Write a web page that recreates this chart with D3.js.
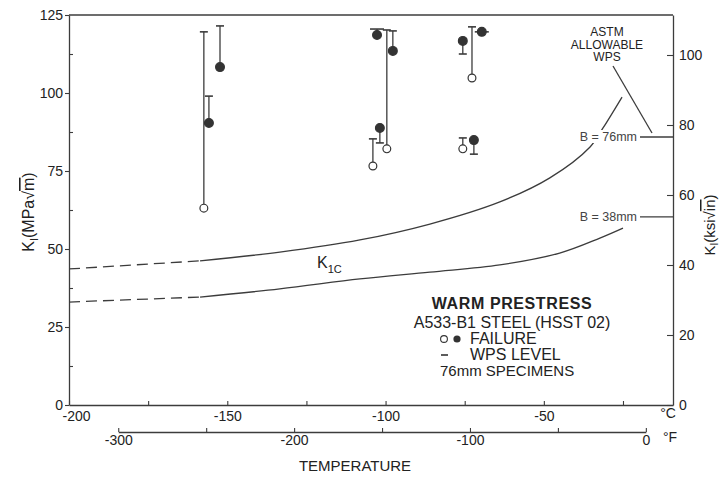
<!DOCTYPE html>
<html>
<head>
<meta charset="utf-8">
<script src="https://cdn.jsdelivr.net/npm/d3@7"></script>
<style>
  html, body { margin: 0; padding: 0; background: #fff; }
  svg { display: block; font-family: "Liberation Sans", Arial, Helvetica, sans-serif; }
</style>
</head>
<body>
<svg id="chart" width="726" height="477"></svg>
<script>
// ---- Temperature axes ----
const celsiusExtent = [-200, -9.2];
const celsiusTicks = [-200, -175, -150, -125, -100, -75, -50, -25];
const celsiusLabels = [-200, -150, -100, -50];
const fahrenheitTicks = [-300, -250, -200, -150, -100, -50, 0];
const fahrenheitLabels = [-300, -200, -100, 0];

// ---- Stress intensity axes ----
const mpaTicks = [0, 25, 50, 75, 100, 125];
const mpaMinorTicks = [12.5, 37.5, 62.5, 87.5, 112.5];
const ksiTicks = [0, 20, 40, 60, 80, 100];

// ---- K1C curves (temperature °C, K in MPa·√m) ----
const upperCurveTemp = [-200, -158.6, -133.4, -108.1, -86.0, -63.9, -48.1, -35.4, -31.3, -25.3];
const upperCurveK    = [43.6, 46.2, 49.0, 52.9, 58.0, 65.1, 72.8, 82.7, 88.8, 98.7];
const lowerCurveTemp = [-200, -158.6, -133.4, -108.1, -86.0, -63.9, -45.0, -32.3, -25.0];
const lowerCurveK    = [33.0, 34.6, 37.2, 40.4, 42.6, 44.9, 48.7, 53.5, 56.7];
const extrapolatedBelow = -158.6;   // dashed below this temperature

// ---- Warm prestress specimens ----
const specTemp   = [-157.4, -152.3, -155.8, -102.7, -99.6, -97.7, -101.8, -104.0, -75.6, -72.7, -69.6, -75.6, -72.1];
const specFailK  = [63.1, 108.3, 90.4, 118.6, 82.1, 113.5, 88.8, 76.6, 116.7, 104.8, 119.6, 82.1, 84.9];
const specWpsK   = [119.6, 121.5, 99.0, 120.5, 120.2, 119.9, 84.0, 85.3, 112.5, 121.2, 119.6, 85.6, 80.4];
const specFilled = [false, true, true, true, false, true, true, false, true, false, true, false, true];

// ---- ASTM allowable WPS levels (MPa·√m) ----
const allowableLabels = ["B = 76mm", "B = 38mm"];
const allowableK = [85.9, 60.3];

const ink = "#3c3c3c";
const textInk = "#222";

const svg = d3.select("#chart");

const x = d3.scaleLinear().domain(celsiusExtent).range([69, 673]);
const yL = d3.scaleLinear().domain([0, 125]).range([405, 15]);
const yR = d3.scaleLinear().domain([0, 100]).range([405, 55]);
yR.domain([0, yR.invert(15)]).range([405, 15]);
const f2c = f => (f - 32) * 5 / 9;
const xF = d3.scaleLinear().domain([-300, 0]).range([x(f2c(-300)), x(f2c(0))]);

function styleAxis(g, size) {
  g.attr("font-family", null).attr("font-size", null);
  g.selectAll("path.domain").attr("stroke", ink).attr("stroke-width", 1.3);
  g.selectAll(".tick line").attr("stroke", ink).attr("stroke-width", 1.1);
  g.selectAll(".tick text").attr("fill", textInk).style("font-size", size + "px");
}

// Left axis (MPa√m)
const gL = svg.append("g").attr("transform", "translate(69,0)")
  .call(d3.axisLeft(yL).tickValues(mpaTicks).tickSize(4).tickPadding(2).tickSizeOuter(0));
styleAxis(gL, 14);
svg.append("g").attr("transform", "translate(69,0)")
  .call(d3.axisRight(yL).tickValues(mpaMinorTicks).tickSize(4).tickFormat(""))
  .call(g => { g.select("path.domain").remove(); styleAxis(g, 14); });

// Right axis (ksi√in)
const gR = svg.append("g").attr("transform", "translate(673,0)")
  .call(d3.axisRight(yR).tickValues(ksiTicks).tickSize(-6).tickPadding(6).tickSizeOuter(0));
styleAxis(gR, 14);

// Top frame
svg.append("line")
  .attr("x1", x.range()[0]).attr("x2", x.range()[1])
  .attr("y1", yL(125)).attr("y2", yL(125))
  .attr("stroke", ink).attr("stroke-width", 1.3);

// Celsius axis
const gC = svg.append("g").attr("transform", `translate(0,${yL(0)})`)
  .call(d3.axisBottom(x).tickValues(celsiusTicks).tickSize(-4).tickPadding(6).tickSizeOuter(0)
    .tickFormat(d => celsiusLabels.includes(d) ? String(d) : ""));
styleAxis(gC, 14);
gC.selectAll(".tick text").filter(d => d === -200).attr("text-anchor", "start").attr("x", -7);
svg.append("text").attr("x", 668).attr("y", 418).attr("text-anchor", "middle")
  .attr("fill", textInk).style("font-size", "14px").text("°C");

// Fahrenheit axis
const gF = svg.append("g").attr("transform", "translate(0,432)")
  .call(d3.axisBottom(xF).tickValues(fahrenheitTicks).tickSize(-4).tickPadding(3).tickSizeOuter(0)
    .tickFormat(d => fahrenheitLabels.includes(d) ? String(d) : ""));
styleAxis(gF, 14);
svg.append("text").attr("x", 670).attr("y", 442).attr("text-anchor", "middle")
  .attr("fill", textInk).style("font-size", "14px").text("°F");

svg.append("text").attr("x", 355).attr("y", 471).attr("text-anchor", "middle")
  .attr("fill", textInk).style("font-size", "15px").text("TEMPERATURE");

// Axis titles
const tL = svg.append("text").attr("transform", "translate(34,212) rotate(-90)")
  .attr("text-anchor", "middle").attr("fill", textInk).style("font-size", "16px");
tL.append("tspan").text("K");
tL.append("tspan").attr("dy", 4).style("font-size", "11px").text("I");
tL.append("tspan").attr("dy", -4).text("(MPa\u221A");
tL.append("tspan").style("text-decoration", "overline").text("m");
tL.append("tspan").text(")");

const tR = svg.append("text").attr("transform", "translate(715,225) rotate(-90)")
  .attr("text-anchor", "middle").attr("fill", textInk).style("font-size", "15px");
tR.append("tspan").text("K");
tR.append("tspan").attr("dy", 3).style("font-size", "10px").text("I");
tR.append("tspan").attr("dy", -3).text("(ksi\u221A");
tR.append("tspan").style("text-decoration", "overline").text("in");
tR.append("tspan").text(")");

// K1C curves
const line = d3.line().x(d => x(d[0])).y(d => yL(d[1])).curve(d3.curveCatmullRom.alpha(0.5));
function drawCurve(temps, ks) {
  const pts = temps.map((t, i) => [t, ks[i]]);
  svg.append("path").datum(pts.filter(p => p[0] <= extrapolatedBelow))
    .attr("d", line).attr("fill", "none").attr("stroke", ink).attr("stroke-width", 1.3)
    .attr("stroke-dasharray", "11,6");
  svg.append("path").datum(pts.filter(p => p[0] >= extrapolatedBelow))
    .attr("d", line).attr("fill", "none").attr("stroke", ink).attr("stroke-width", 1.3);
}
drawCurve(upperCurveTemp, upperCurveK);
drawCurve(lowerCurveTemp, lowerCurveK);

const k1c = svg.append("text").attr("x", 317).attr("y", 268).attr("fill", textInk).style("font-size", "16px");
k1c.append("tspan").text("K");
k1c.append("tspan").attr("dy", 5).style("font-size", "11px").text("1C");

// ASTM allowable WPS levels
allowableK.forEach((k, i) => {
  const yy = yL(k);
  svg.append("line").attr("x1", x.range()[1] - 33).attr("x2", x.range()[1])
    .attr("y1", yy).attr("y2", yy).attr("stroke", ink).attr("stroke-width", 1.3);
  svg.append("rect").attr("x", 575).attr("y", yy - 7).attr("width", 64).attr("height", 13).attr("fill", "#fff");
  svg.append("text").attr("x", 637).attr("y", yy + 4.5).attr("text-anchor", "end")
    .attr("fill", "#444").style("font-size", "12.5px").text(allowableLabels[i]);
});

const astm = svg.append("text").attr("text-anchor", "middle").attr("fill", textInk).style("font-size", "12px");
["ASTM", "ALLOWABLE", "WPS"].forEach((s, i) => {
  astm.append("tspan").attr("x", 607).attr("y", 36 + i * 12.5).text(s);
});
svg.append("line").attr("x1", 613).attr("y1", 66).attr("x2", 652).attr("y2", yL(allowableK[0]) - 4)
  .attr("stroke", ink).attr("stroke-width", 1.3);

// Specimens: WPS level cap, connector, failure point
const specimens = specTemp.map((t, i) => ({ t, fail: specFailK[i], wps: specWpsK[i], filled: specFilled[i] }));
const gS = svg.append("g");
specimens.forEach(s => {
  const cx = x(s.t);
  const half = Math.abs(s.wps - s.fail) < 2 ? 7 : 4;
  gS.append("line").attr("x1", cx).attr("x2", cx).attr("y1", yL(s.wps)).attr("y2", yL(s.fail))
    .attr("stroke", ink).attr("stroke-width", 1.3);
  gS.append("line").attr("x1", cx - half).attr("x2", cx + half).attr("y1", yL(s.wps)).attr("y2", yL(s.wps))
    .attr("stroke", ink).attr("stroke-width", 1.6);
  gS.append("circle").attr("cx", cx).attr("cy", yL(s.fail)).attr("r", s.filled ? 4.4 : 3.9)
    .attr("fill", s.filled ? "#333" : "#fff").attr("stroke", "#333").attr("stroke-width", 1.2);
});

// Legend block
const lg = svg.append("g").attr("fill", textInk);
lg.append("text").attr("x", 512).attr("y", 309).attr("text-anchor", "middle")
  .style("font-size", "16px").style("font-weight", "bold").style("letter-spacing", "0.6px").text("WARM PRESTRESS");
lg.append("text").attr("x", 512).attr("y", 328).attr("text-anchor", "middle")
  .style("font-size", "16px").text("A533-B1 STEEL (HSST 02)");
lg.append("circle").attr("cx", 444).attr("cy", 339).attr("r", 3.4).attr("fill", "#fff").attr("stroke", "#333").attr("stroke-width", 1.1);
lg.append("circle").attr("cx", 457).attr("cy", 339).attr("r", 3.6).attr("fill", "#333");
lg.append("text").attr("x", 470).attr("y", 344).style("font-size", "16px").text("FAILURE");
lg.append("line").attr("x1", 441).attr("x2", 448).attr("y1", 355).attr("y2", 355).attr("stroke", "#333").attr("stroke-width", 1.6);
lg.append("text").attr("x", 470).attr("y", 360).style("font-size", "16px").text("WPS LEVEL");
lg.append("text").attr("x", 440).attr("y", 376).style("font-size", "15px").text("76mm SPECIMENS");
</script>
</body>
</html>
